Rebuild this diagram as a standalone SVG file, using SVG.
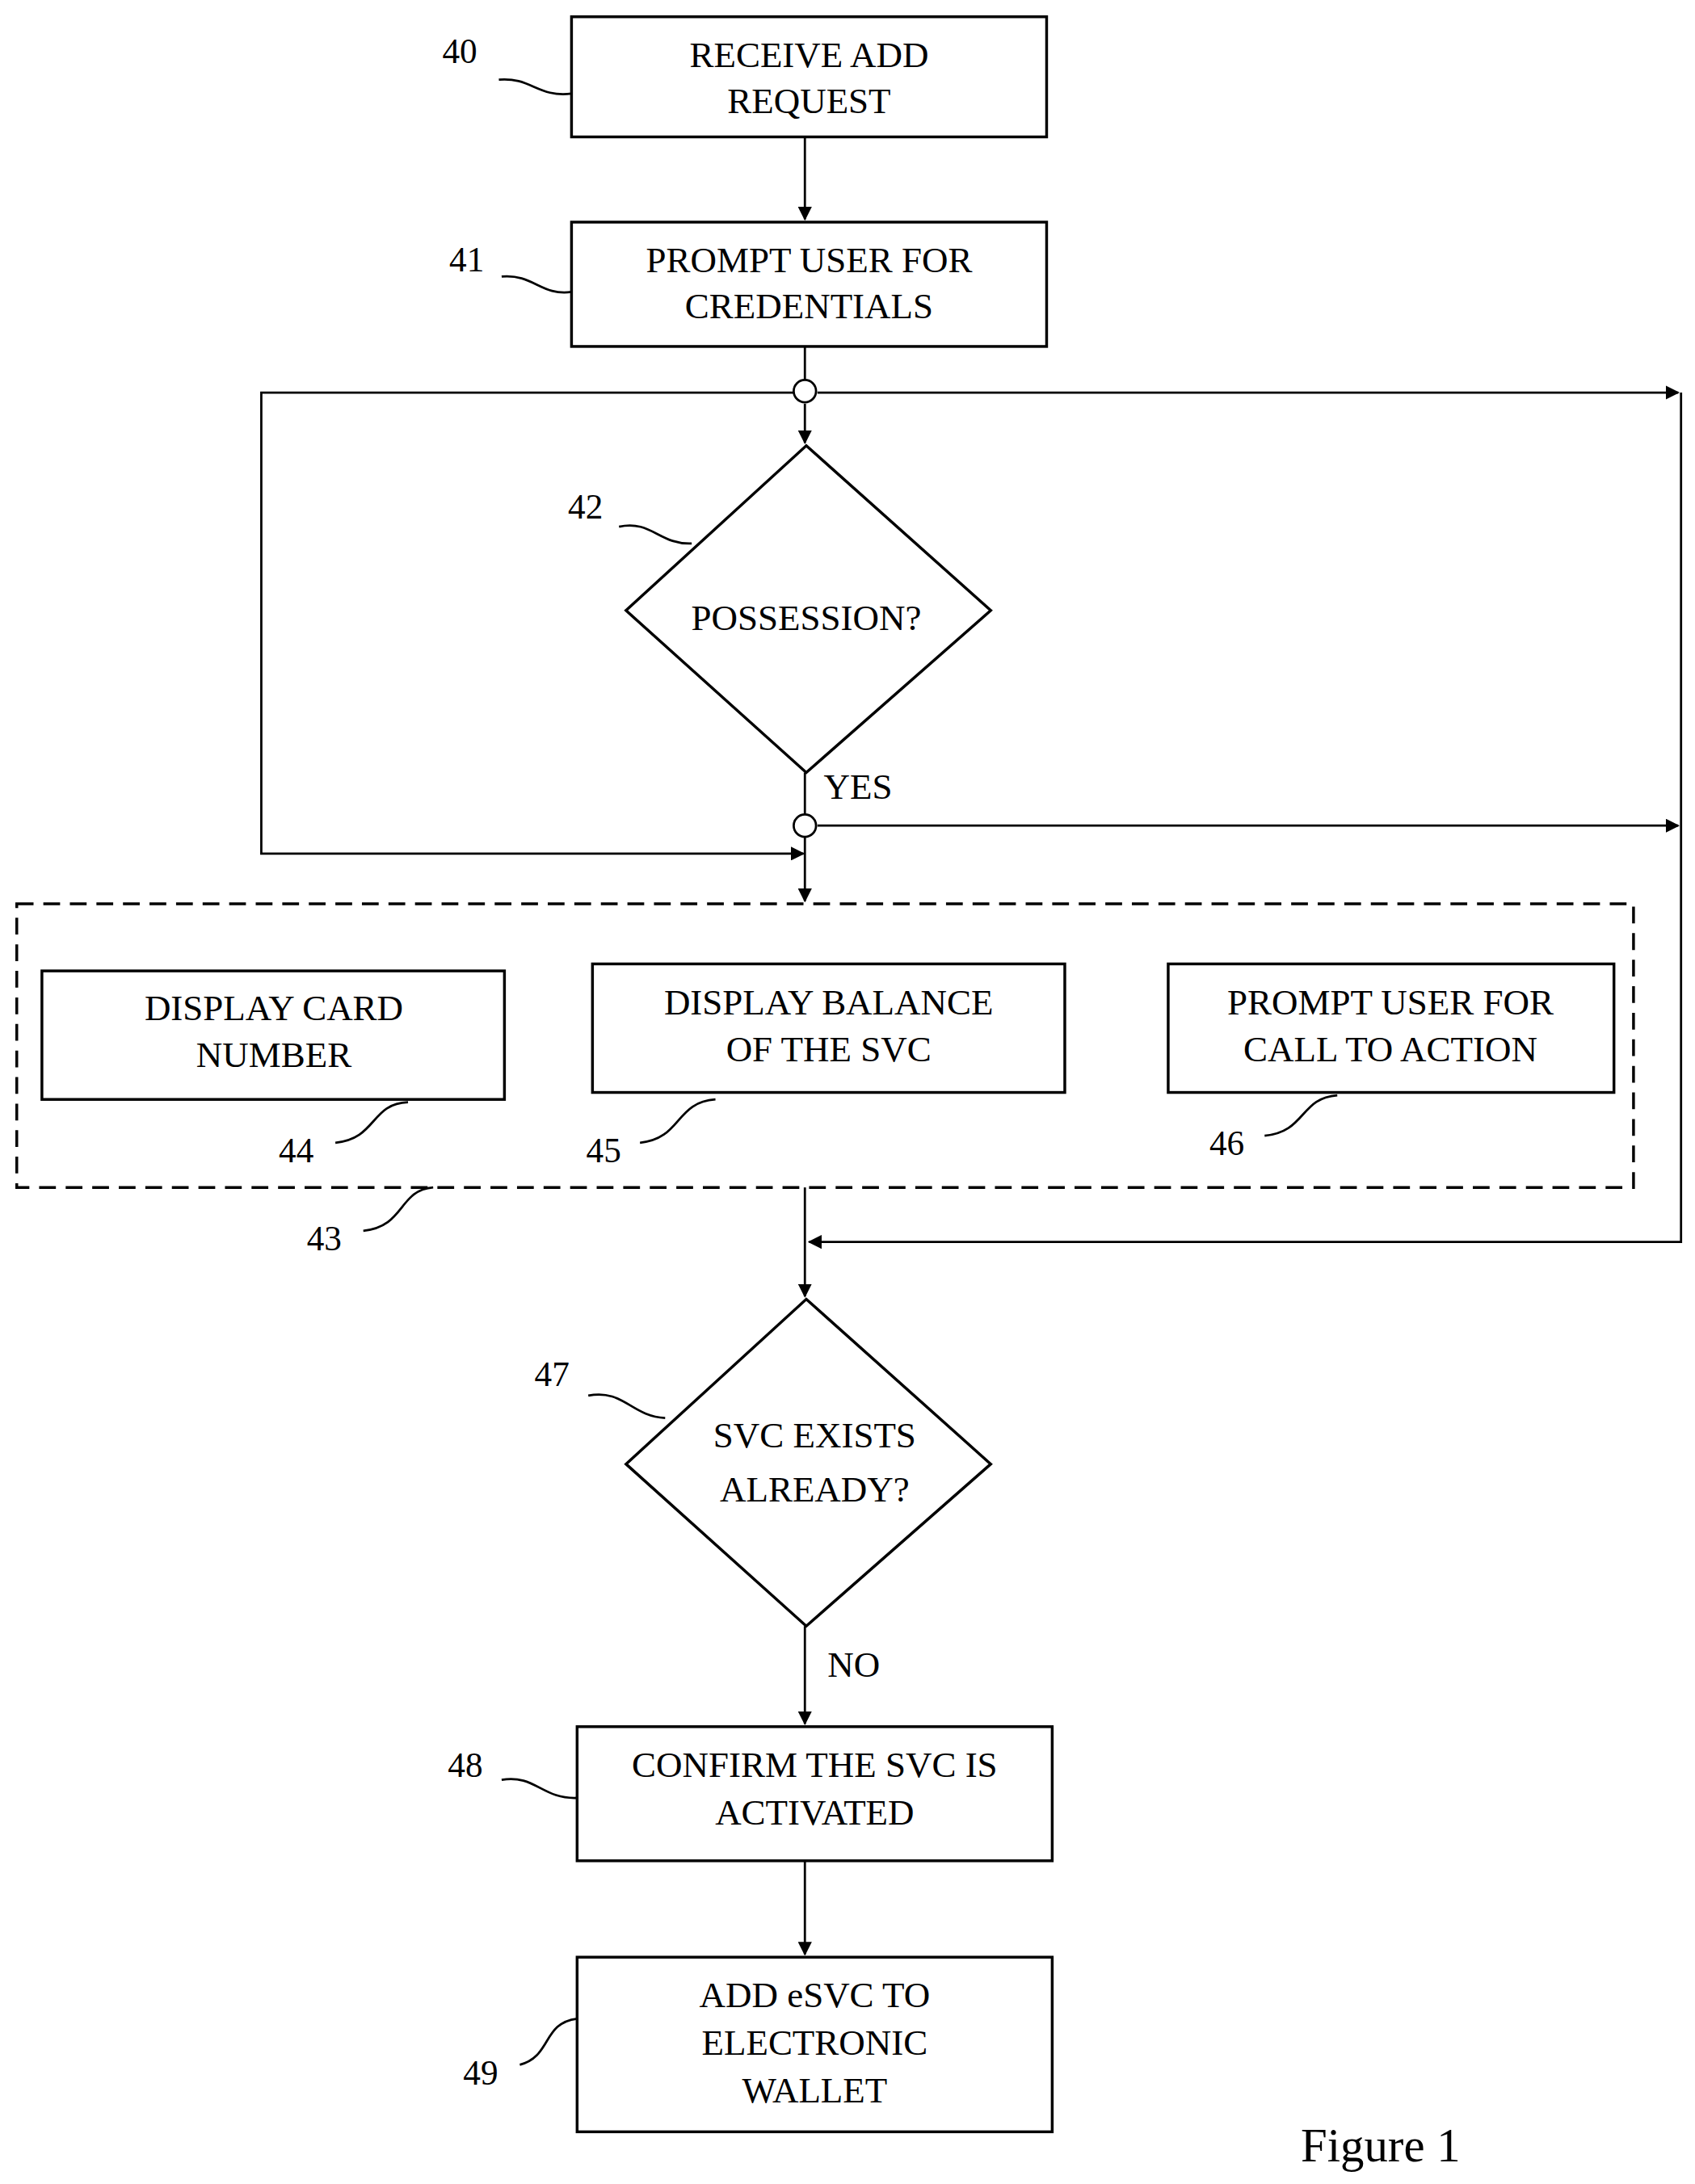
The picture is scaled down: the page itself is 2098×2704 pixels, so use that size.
<svg xmlns="http://www.w3.org/2000/svg" width="2098" height="2704" viewBox="0 0 2098 2704">
<style>
.b{fill:none;stroke:#000;stroke-width:2}
.l{fill:none;stroke:#000;stroke-width:1.6}
.t{font-family:"Liberation Serif",serif;font-size:26px;text-anchor:middle}
.n{font-family:"Liberation Serif",serif;font-size:25px;text-anchor:middle}
</style>
<defs><marker id="a" markerWidth="10" markerHeight="10" refX="9" refY="5" orient="auto" markerUnits="userSpaceOnUse" viewBox="0 0 10 10"><path d="M0,0L10,5L0,10z"/></marker></defs>
<rect width="2098" height="2704" fill="#fff"/>
<g transform="scale(1.7296)">
<g id="connectors">
<path class="l" d="M576,98V157" marker-end="url(#a)"/>
<path class="l" d="M576,248V272"/>
<path class="l" d="M576,289V317" marker-end="url(#a)"/>
<path class="l" d="M585,281H1201" marker-end="url(#a)"/>
<path class="l" d="M568,281H187V611H575" marker-end="url(#a)"/>
<path class="l" d="M576,553V583"/>
<path class="l" d="M585,591H1201" marker-end="url(#a)"/>
<path class="l" d="M576,599V645" marker-end="url(#a)"/>
<path class="l" d="M1203,281V889H579" marker-end="url(#a)"/>
<path class="l" d="M576,850V928" marker-end="url(#a)"/>
<path class="l" d="M576,1164V1234" marker-end="url(#a)"/>
<path class="l" d="M576,1332V1399" marker-end="url(#a)"/>
<circle class="l" cx="576" cy="280" r="8" fill="#fff"/>
<circle class="l" cx="576" cy="591" r="8" fill="#fff"/>
<text class="t" x="614" y="572">YES</text>
<text class="t" x="611" y="1200">NO</text>
</g>
<g id="n40"><rect class="b" x="409" y="12" width="340" height="86"/><text class="t" x="579" y="48">RECEIVE ADD</text><text class="t" x="579" y="81">REQUEST</text>
<text class="n" x="329" y="45">40</text><path class="l" d="M357,57C380,55 385,70 409,67"/></g>
<g id="n41"><rect class="b" x="409" y="159" width="340" height="89"/><text class="t" x="579" y="195">PROMPT USER FOR</text><text class="t" x="579" y="228">CREDENTIALS</text>
<text class="n" x="334" y="194">41</text><path class="l" d="M359,198C382,196 387,212 409,209"/></g>
<g id="n42"><path class="b" d="M577,319L709,437L577,553L448,437Z"/><text class="t" x="577" y="451">POSSESSION?</text>
<text class="n" x="419" y="371">42</text><path class="l" d="M443,377C466,372 472,390 495,389"/></g>
<g id="n43"><rect class="b" x="12" y="647" width="1157" height="203" stroke-dasharray="12,7"/>
<text class="n" x="232" y="895">43</text><path class="l" d="M260,881C290,878 285,852 310,850"/></g>
<g id="n44"><rect class="b" x="30" y="695" width="331" height="92"/><text class="t" x="196" y="730">DISPLAY CARD</text><text class="t" x="196" y="764">NUMBER</text>
<text class="n" x="212" y="832">44</text><path class="l" d="M240,818C270,815 265,790 292,789"/></g>
<g id="n45"><rect class="b" x="424" y="690" width="338" height="92"/><text class="t" x="593" y="726">DISPLAY BALANCE</text><text class="t" x="593" y="760">OF THE SVC</text>
<text class="n" x="432" y="832">45</text><path class="l" d="M458,818C488,815 483,789 512,787"/></g>
<g id="n46"><rect class="b" x="836" y="690" width="319" height="92"/><text class="t" x="995" y="726">PROMPT USER FOR</text><text class="t" x="995" y="760">CALL TO ACTION</text>
<text class="n" x="878" y="827">46</text><path class="l" d="M905,813C935,810 930,786 957,784"/></g>
<g id="n47"><path class="b" d="M577,930L709,1048L577,1164L448,1048Z"/><text class="t" x="583" y="1036">SVC EXISTS</text><text class="t" x="583" y="1075">ALREADY?</text>
<text class="n" x="395" y="992">47</text><path class="l" d="M421,999C446,994 452,1014 476,1015"/></g>
<g id="n48"><rect class="b" x="413" y="1236" width="340" height="96"/><text class="t" x="583" y="1272">CONFIRM THE SVC IS</text><text class="t" x="583" y="1306">ACTIVATED</text>
<text class="n" x="333" y="1272">48</text><path class="l" d="M359,1274C383,1270 388,1288 413,1287"/></g>
<g id="n49"><rect class="b" x="413" y="1401" width="340" height="125"/><text class="t" x="583" y="1437">ADD eSVC TO</text><text class="t" x="583" y="1471">ELECTRONIC</text><text class="t" x="583" y="1505">WALLET</text>
<text class="n" x="344" y="1492">49</text><path class="l" d="M372,1478C395,1472 388,1448 413,1445"/></g>
<text x="988" y="1547" style="font-family:'Liberation Serif',serif;font-size:34px;text-anchor:middle">Figure 1</text>
</g>
</svg>
